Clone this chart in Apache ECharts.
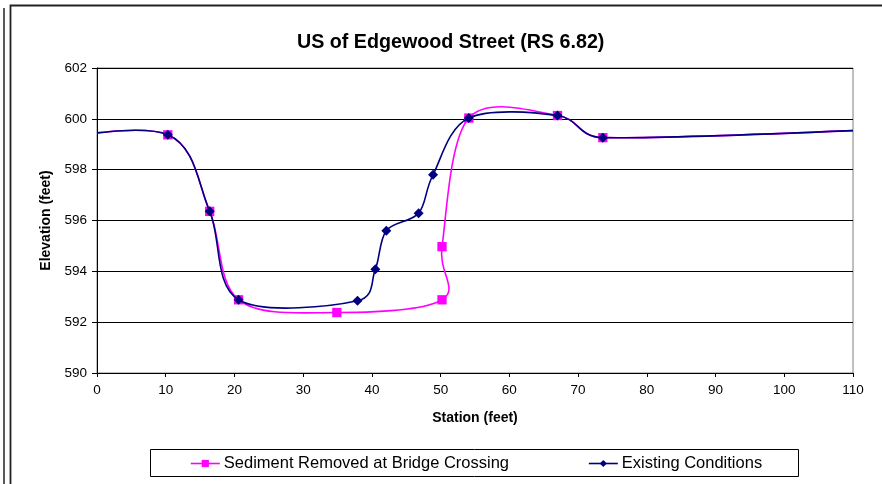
<!DOCTYPE html>
<html>
<head>
<meta charset="utf-8">
<script src="https://cdn.jsdelivr.net/npm/echarts@6/dist/echarts.min.js"></script>
<style>
html,body{margin:0;padding:0;background:#fff;}
#chart{width:882px;height:484px;}
</style>
</head>
<body>
<div id="chart"></div>
<script>
// Station (feet) and elevation (feet); first/last points lie outside the plotted range
const sedimentStation = [-8, 10.3, 16.4, 20.6, 34.9, 50.2, 50.2, 54.1, 67.0, 73.6, 125];
const sedimentElev    = [599.2, 599.37, 596.36, 592.88, 592.38, 592.88, 594.97, 600.03, 600.13, 599.26, 599.7];
const existingStation = [-8, 10.3, 16.4, 20.6, 37.9, 40.5, 42.1, 46.8, 48.9, 54.1, 67.0, 73.6, 125];
const existingElev    = [599.2, 599.37, 596.36, 592.88, 592.84, 594.08, 595.6, 596.29, 597.8, 600.03, 600.13, 599.26, 599.7];
const seriesNames = ['Sediment Removed at Bridge Crossing', 'Existing Conditions'];
const titleText = 'US of Edgewood Street (RS 6.82)';
const xTitle = 'Station (feet)';
const yTitle = 'Elevation (feet)';

const zip = (a, b) => a.map((v, i) => [v, b[i]]);
const FONT = '"Liberation Sans", Arial, sans-serif';
const PINK = '#FF00FF', NAVY = '#000080';

// control-point offset: tangent/6, limited to half the segment length (spreadsheet-style smoothing)
function cpOffset(pPrev, pNext, segLen) {
  const tx = pNext[0] - pPrev[0], ty = pNext[1] - pPrev[1];
  const tl = Math.hypot(tx, ty);
  let f = 1 / 6;
  if (tl > 0 && tl * f > segLen / 2) f = segLen / (2 * tl);
  return [tx * f, ty * f];
}

// Smoothed curve, one bezier segment per data point, positioned via the axes
function smoothCurve(id, xs, ys, color, z) {
  const n = xs.length;
  const ci = k => Math.max(0, Math.min(n - 1, k));
  return {
    id: id, type: 'custom', silent: true, z: z,
    data: zip(xs, ys),
    encode: {x: 0, y: 1},
    renderItem: function (params, api) {
      const i = params.dataIndex;
      if (i >= n - 1) return null;
      const P = k => api.coord([xs[ci(k)], ys[ci(k)]]);
      const p0 = P(i - 1), p1 = P(i), p2 = P(i + 1), p3 = P(i + 2);
      const seg = Math.hypot(p2[0] - p1[0], p2[1] - p1[1]);
      const o1 = cpOffset(p0, p2, seg);
      const o2 = cpOffset(p1, p3, seg);
      const cs = params.coordSys;
      return {
        type: 'bezierCurve',
        shape: {
          x1: p1[0], y1: p1[1], x2: p2[0], y2: p2[1],
          cpx1: p1[0] + o1[0], cpy1: p1[1] + o1[1],
          cpx2: p2[0] - o2[0], cpy2: p2[1] - o2[1]
        },
        style: {stroke: color, lineWidth: 1.6, fill: null},
        clipPath: {type: 'rect', shape: {x: cs.x, y: cs.y, width: cs.width, height: cs.height}}
      };
    }
  };
}

const chart = echarts.init(document.getElementById('chart'), null, {renderer: 'canvas'});
chart.setOption({
  animation: false,
  backgroundColor: '#fff',
  textStyle: {fontFamily: FONT, color: '#000'},
  title: {
    text: titleText,
    left: 292, top: 28,
    textStyle: {fontFamily: FONT, fontSize: 19.7, fontWeight: 'bold', color: '#000'}
  },
  graphic: [
    {type: 'line', shape: {x1: 4, y1: 8, x2: 4, y2: 484}, style: {stroke: '#222', lineWidth: 1.5}},
    {type: 'rect', shape: {x: 10.5, y: 5.5, width: 900, height: 500}, style: {fill: null, stroke: '#222', lineWidth: 1.8}},
    {type: 'rect', shape: {x: 150.5, y: 449.5, width: 648, height: 27}, style: {fill: '#fff', stroke: '#000', lineWidth: 1}, z: 1}
  ],
  legend: {
    left: 190, top: 455,
    padding: 0,
    itemWidth: 29, itemHeight: 9,
    itemGap: 79,
    z: 5,
    lineStyle: {width: 1.6, opacity: 1},
    textStyle: {fontFamily: FONT, fontSize: 16.5, color: '#000', padding: [0, 0, 0, -1]},
    data: seriesNames
  },
  grid: {
    left: 97, top: 68, right: 29, bottom: 111,
    show: true, borderColor: '#808080', borderWidth: 1, backgroundColor: '#fff'
  },
  xAxis: {
    type: 'value', min: 0, max: 110, interval: 10,
    name: xTitle, nameLocation: 'middle', nameGap: 38,
    nameTextStyle: {fontFamily: FONT, fontSize: 14, fontWeight: 'bold', color: '#000'},
    axisLine: {show: true, onZero: false, lineStyle: {color: '#000', width: 1}},
    axisTick: {show: true, inside: false, length: 4, lineStyle: {color: '#000'}},
    axisLabel: {fontFamily: FONT, fontSize: 13.5, color: '#000', margin: 10},
    splitLine: {show: false}
  },
  yAxis: {
    type: 'value', min: 590, max: 602, interval: 2,
    name: yTitle, nameLocation: 'middle', nameGap: 43, nameRotate: 90,
    nameTextStyle: {fontFamily: FONT, fontSize: 14, fontWeight: 'bold', color: '#000'},
    axisLine: {show: true, lineStyle: {color: '#000', width: 1}},
    axisTick: {show: true, inside: false, length: 5, lineStyle: {color: '#000'}},
    axisLabel: {fontFamily: FONT, fontSize: 13.5, color: '#000', margin: 10},
    splitLine: {show: true, lineStyle: {color: '#000', width: 1}}
  },
  series: [
    smoothCurve('sedimentCurve', sedimentStation, sedimentElev, PINK, 2),
    {
      name: seriesNames[0], type: 'line',
      data: zip(sedimentStation, sedimentElev),
      symbol: 'rect', symbolSize: 9.3, showAllSymbol: true,
      lineStyle: {color: PINK, width: 1.6, opacity: 0},
      itemStyle: {color: PINK, borderWidth: 0},
      z: 3
    },
    smoothCurve('existingCurve', existingStation, existingElev, NAVY, 4),
    {
      name: seriesNames[1], type: 'line',
      data: zip(existingStation, existingElev),
      symbol: 'diamond', symbolSize: 10, showAllSymbol: true,
      lineStyle: {color: NAVY, width: 1.6, opacity: 0},
      itemStyle: {color: NAVY, borderWidth: 0},
      z: 5
    }
  ]
});
</script>
</body>
</html>
